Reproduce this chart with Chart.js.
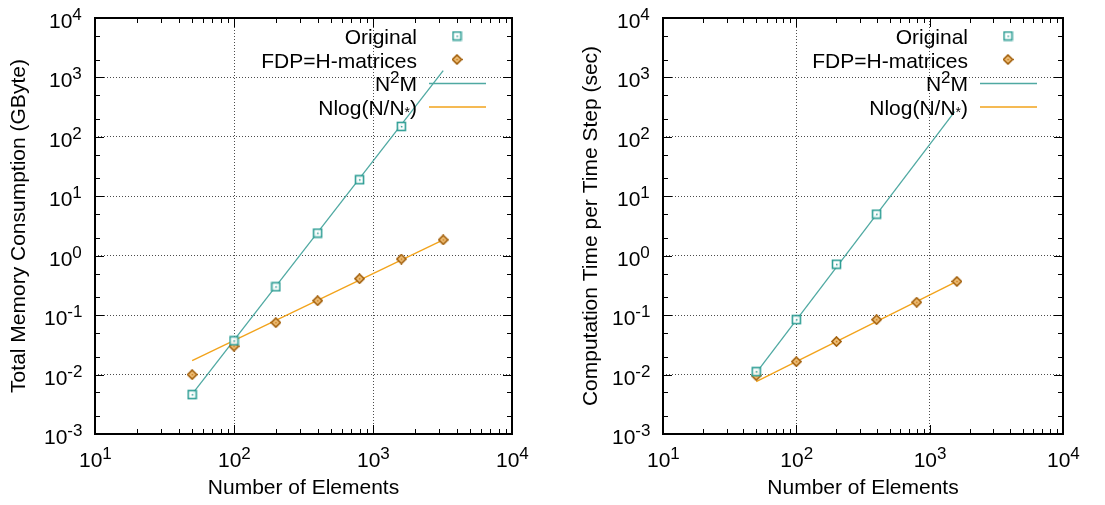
<!DOCTYPE html>
<html>
<head>
<meta charset="utf-8">
<script src="https://cdn.jsdelivr.net/npm/chart.js@4.4.1/dist/chart.umd.min.js"></script>
<style>
  html, body { margin: 0; padding: 0; background: #fff; }
  #wrap { position: relative; width: 1105px; height: 505px; }
  canvas { position: absolute; top: 0; }
  #memChart { left: 0; }
  #timeChart { left: 552px; }
</style>
</head>
<body>
<div id="wrap">
  <canvas id="memChart" width="552" height="505"></canvas>
  <canvas id="timeChart" width="553" height="505"></canvas>
</div>
<script>
// ---- data ----
// left: total memory consumption (GByte)
const memOrigN = [50, 100, 200, 400, 800, 1600];
const memOrig = [0.0046, 0.037, 0.30, 2.4, 19, 150];
const memFdpN = [50, 100, 200, 400, 800, 1600, 3200];
const memFdp = [0.010, 0.030, 0.075, 0.175, 0.41, 0.88, 1.85];
const memN2MFitN = [50, 3200];
const memN2MFit = [0.0047, 1300];
const memNlogFitN = [50, 3200];
const memNlogFit = [0.0172, 1.85];

// right: computation time per time step (sec)
const timeOrigN = [50, 100, 200, 400];
const timeOrig = [0.0112, 0.084, 0.72, 5.0];
const timeFdpN = [50, 100, 200, 400, 800, 1600];
const timeFdp = [0.0096, 0.0165, 0.036, 0.084, 0.165, 0.37];
const timeN2MFitN = [50, 1540];
const timeN2MFit = [0.0107, 265];
const timeNlogFitN = [50, 1600];
const timeNlogFit = [0.0076, 0.37];

// axes
const xTickValues = [10, 100, 1000, 10000];
const xTickExp = ['1', '2', '3', '4'];
const yTickValues = [1e-3, 1e-2, 1e-1, 1e0, 1e1, 1e2, 1e3, 1e4];
const yTickExp = ['-3', '-2', '-1', '0', '1', '2', '3', '4'];
const xMinorSteps = [2, 3, 4, 5, 6, 7, 8, 9];
const yMinorSteps = [2, 5];

const FONT = '"Liberation Sans", Arial, Helvetica, sans-serif';
const TEAL = '#2f9e95';
const TEAL_LINE = '#4fa9a2';
const ORANGE_LINE = '#f2a31b';
const BROWN = '#a3600c';

const toPoints = (xs, ys) => xs.map((x, i) => ({ x: x, y: ys[i] }));

// gnuplot-ish point markers
function squareMarker() {
  const c = document.createElement('canvas');
  c.width = c.height = 11;
  const g = c.getContext('2d');
  g.fillStyle = 'rgba(255,255,255,0.9)';
  g.fillRect(1, 1, 9, 9);
  g.strokeStyle = TEAL;
  g.lineWidth = 1.6;
  g.strokeRect(1.5, 1.5, 8, 8);
  g.fillStyle = TEAL;
  g.fillRect(5, 5, 1.5, 1.5);
  return c;
}
function diamondMarker() {
  const c = document.createElement('canvas');
  c.width = c.height = 11;
  const g = c.getContext('2d');
  g.beginPath();
  g.moveTo(5.5, 1); g.lineTo(10, 5.5); g.lineTo(5.5, 10); g.lineTo(1, 5.5); g.closePath();
  g.fillStyle = '#f1c27a';
  g.fill();
  g.strokeStyle = BROWN;
  g.lineWidth = 1.7;
  g.stroke();
  g.fillStyle = '#c7791a';
  g.fillRect(4.8, 4.8, 1.6, 1.6);
  return c;
}
const sqImg = squareMarker();
const diaImg = diamondMarker();

// draw text made of pieces: [text, 'sup'|'sub'|undefined]
function richWidth(ctx, pieces) {
  let w = 0;
  pieces.forEach(p => {
    ctx.font = (p[1] ? (p[1] === 'sub' ? 14 : 17) : 21) + 'px ' + FONT;
    w += ctx.measureText(p[0]).width;
  });
  return w;
}
function drawRich(ctx, pieces, x, baseline) {
  ctx.textBaseline = 'alphabetic';
  ctx.textAlign = 'left';
  pieces.forEach(p => {
    let dy = 0;
    if (p[1] === 'sup') { ctx.font = '17px ' + FONT; dy = -8; }
    else if (p[1] === 'sub') { ctx.font = '14px ' + FONT; dy = 2; }
    else ctx.font = '21px ' + FONT;
    ctx.fillText(p[0], x, baseline + dy);
    x += ctx.measureText(p[0]).width;
  });
}

const gnuFrame = {
  id: 'gnuFrame',
  afterDraw(chart, args, opts) {
    const { ctx, chartArea: a, scales: { x, y } } = chart;
    ctx.save();
    ctx.strokeStyle = '#000';
    ctx.lineWidth = 1;

    // tick marks on all four sides, pointing inward
    const tick = (px, len, horizontal) => {
      ctx.beginPath();
      if (horizontal) {
        ctx.moveTo(px, a.bottom); ctx.lineTo(px, a.bottom - len);
        ctx.moveTo(px, a.top); ctx.lineTo(px, a.top + len);
      } else {
        ctx.moveTo(a.left, px); ctx.lineTo(a.left + len, px);
        ctx.moveTo(a.right, px); ctx.lineTo(a.right - len, px);
      }
      ctx.stroke();
    };
    xTickValues.forEach((v, i) => {
      tick(Math.round(x.getPixelForValue(v)) + 0.5, 9, true);
      if (i < xTickValues.length - 1) {
        xMinorSteps.forEach(m => tick(Math.round(x.getPixelForValue(v * m)) + 0.5, 5, true));
      }
    });
    yTickValues.forEach((v, i) => {
      tick(Math.round(y.getPixelForValue(v)) + 0.5, 9, false);
      if (i < yTickValues.length - 1) {
        yMinorSteps.forEach(m => tick(Math.round(y.getPixelForValue(v * m)) + 0.5, 5, false));
      }
    });

    // frame
    ctx.lineWidth = 2;
    ctx.strokeRect(a.left, a.top, a.right - a.left, a.bottom - a.top);

    // tick labels 10^n
    ctx.fillStyle = '#000';
    xTickValues.forEach((v, i) => {
      drawRich(ctx, [['10'], [xTickExp[i], 'sup']], x.getPixelForValue(v) - 16, a.bottom + 33);
    });
    yTickValues.forEach((v, i) => {
      const neg = yTickExp[i].startsWith('-');
      drawRich(ctx, [['10'], [yTickExp[i], 'sup']], a.left - (neg ? 51 : 46), y.getPixelForValue(v) + 10);
    });

    // key (top right, text right-aligned before the sample)
    opts.entries.forEach((e, k) => {
      const cy = a.top + 18 + k * 23.5;
      const w = richWidth(ctx, e.text);
      ctx.fillStyle = '#000';
      drawRich(ctx, e.text, a.right - 95 - w, cy + 8);
      const ds = chart.data.datasets[e.dataset];
      if (ds.showLine) {
        ctx.strokeStyle = ds.borderColor;
        ctx.lineWidth = ds.borderWidth;
        ctx.beginPath();
        ctx.moveTo(a.right - 83, cy + 0.5);
        ctx.lineTo(a.right - 26, cy + 0.5);
        ctx.stroke();
      } else {
        const img = ds.pointStyle;
        ctx.drawImage(img, a.right - 55 - img.width / 2, cy - img.height / 2);
      }
    });
    ctx.restore();
  }
};

const keyEntries = [
  { text: [['Original']], dataset: 0 },
  { text: [['FDP=H-matrices']], dataset: 1 },
  { text: [['N'], ['2', 'sup'], ['M']], dataset: 2 },
  { text: [['Nlog(N/N'], ['*', 'sub'], [')']], dataset: 3 },
];

function makeChart(id, yTitle, yWidth, rightPad, yTitlePad, series) {
  const ctx = document.getElementById(id).getContext('2d');
  return new Chart(ctx, {
    type: 'scatter',
    data: {
      datasets: [
        {
          label: 'Original',
          data: toPoints(series.origN, series.orig),
          pointStyle: sqImg,
          showLine: false,
          order: 0,
        },
        {
          label: 'FDP=H-matrices',
          data: toPoints(series.fdpN, series.fdp),
          pointStyle: diaImg,
          showLine: false,
          order: 1,
        },
        {
          label: 'N2M',
          data: toPoints(series.n2mN, series.n2m),
          showLine: true,
          borderColor: TEAL_LINE,
          borderWidth: 1.3,
          pointRadius: 0,
          order: 2,
        },
        {
          label: 'Nlog(N/N*)',
          data: toPoints(series.nlogN, series.nlog),
          showLine: true,
          borderColor: ORANGE_LINE,
          borderWidth: 1.3,
          pointRadius: 0,
          order: 3,
        },
      ],
    },
    options: {
      responsive: false,
      animation: false,
      devicePixelRatio: 1,
      layout: { padding: { top: 18, right: rightPad, bottom: 0, left: 0 } },
      plugins: {
        legend: { display: false },
        tooltip: { enabled: false },
        gnuFrame: { entries: keyEntries },
      },
      scales: {
        x: {
          type: 'logarithmic',
          min: 10,
          max: 10000,
          afterBuildTicks: s => { s.ticks = xTickValues.map(v => ({ value: v })); },
          afterFit: s => { s.height = 71; },
          ticks: { display: false },
          grid: { color: 'rgba(0,0,0,0.7)', lineWidth: 1, drawTicks: false },
          border: { display: false, dash: [1, 2] },
          title: {
            display: true,
            text: 'Number of Elements',
            color: '#000',
            font: { family: FONT, size: 21, lineHeight: 1 },
            padding: { top: 0, bottom: 6.5 },
          },
        },
        y: {
          type: 'logarithmic',
          min: 1e-3,
          max: 1e4,
          afterBuildTicks: s => { s.ticks = yTickValues.map(v => ({ value: v })); },
          afterFit: s => { s.width = yWidth; },
          ticks: { display: false },
          grid: { color: 'rgba(0,0,0,0.7)', lineWidth: 1, drawTicks: false },
          border: { display: false, dash: [1, 2] },
          title: {
            display: true,
            text: yTitle,
            color: '#000',
            font: { family: FONT, size: 21, lineHeight: 1 },
            padding: { top: yTitlePad, bottom: 0 },
          },
        },
      },
    },
    plugins: [gnuFrame],
  });
}

makeChart('memChart', 'Total Memory Consumption (GByte)', 95, 40, 8.5, {
  origN: memOrigN, orig: memOrig,
  fdpN: memFdpN, fdp: memFdp,
  n2mN: memN2MFitN, n2m: memN2MFit,
  nlogN: memNlogFitN, nlog: memNlogFit,
});

makeChart('timeChart', 'Computation Time per Time Step (sec)', 111, 42, 28.5, {
  origN: timeOrigN, orig: timeOrig,
  fdpN: timeFdpN, fdp: timeFdp,
  n2mN: timeN2MFitN, n2m: timeN2MFit,
  nlogN: timeNlogFitN, nlog: timeNlogFit,
});
</script>
</body>
</html>
